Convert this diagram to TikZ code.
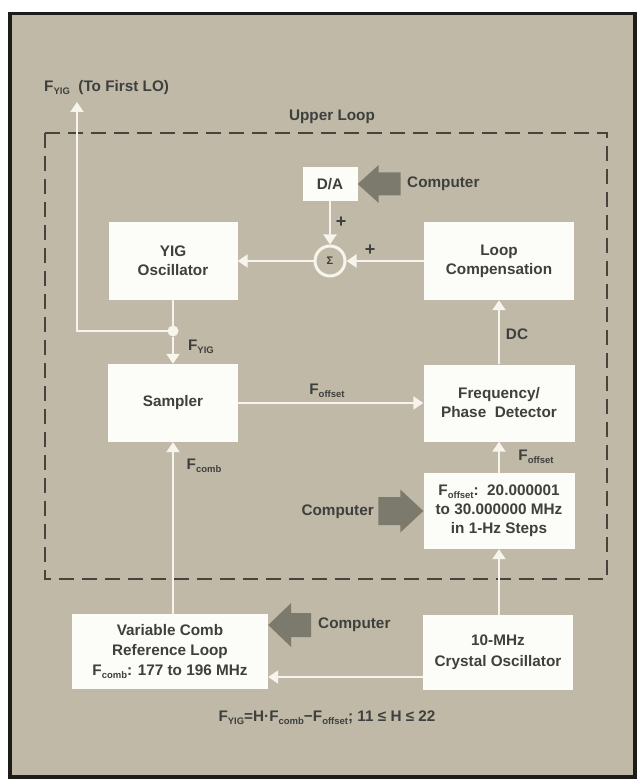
\documentclass[tikz,border=0pt]{standalone}
\usepackage{fontspec}
\setmainfont{Liberation Sans}
\usetikzlibrary{arrows.meta,calc}
\definecolor{tanbg}{RGB}{192,185,167}
\definecolor{boxw}{RGB}{252,252,249}
\definecolor{linew}{RGB}{246,244,236}
\definecolor{fatc}{RGB}{124,121,109}
\definecolor{dashc}{RGB}{72,68,60}
\definecolor{txt}{RGB}{62,64,62}
\definecolor{framec}{RGB}{28,28,26}
\newcommand{\lsub}[1]{\raisebox{-0.35ex}{\fontsize{9.5}{9.5}\selectfont #1}}
\begin{document}
\begin{tikzpicture}[x=1pt,y=-1pt,
  font=\fontsize{15.3}{19}\selectfont\bfseries, text=txt,
  blk/.style={fill=boxw, draw=none, inner sep=0pt, align=center},
  lbl/.style={inner sep=0pt, align=center},
  sig/.style={draw=linew, line width=2pt, -{Triangle[width=13pt,length=10pt,fill=linew]}},
  wire/.style={draw=linew, line width=2pt}]
\useasboundingbox (0,0) rectangle (639,783);
\fill[white] (0,0) rectangle (639,783);
\draw[framec, line width=3.5pt, fill=tanbg] (10,13.5) rectangle (635,777);

% dashed upper loop
\draw[dashc, line width=1.8pt, dash pattern=on 15pt off 8pt] (45,133) rectangle (607,579);
\node[lbl] (ul) at (332,117) {Upper Loop};
\node[lbl, anchor=west] (fout) at (44,88) {F\lsub{YIG}\ \ (To First LO)};

% blocks
\node[blk, minimum width=55pt, minimum height=34pt] (da) at (330,184) {D/A};
\node[circle, draw=linew, line width=3pt, fill=tanbg, minimum size=30pt, inner sep=0pt] (sum) at (330,261) {\fontsize{11}{11}\selectfont Σ};
\node[blk, minimum width=129pt, minimum height=78pt] (yig) at (173,261) {YIG\\Oscillator};
\node[blk, minimum width=150pt, minimum height=78pt] (lc) at (499,261) {Loop\\Compensation};
\node[blk, minimum width=130pt, minimum height=78pt] (samp) at (173,403) {Sampler};
\node[blk, minimum width=151pt, minimum height=77pt] (fpd) at (499,403) {Frequency/\\Phase\ \ Detector};
\node[blk, minimum width=151pt, minimum height=76pt] (off) at (499,511) {F\lsub{offset}:\ \ 20.000001\\to 30.000000 MHz\\in 1-Hz Steps};
\node[blk, minimum width=196pt, minimum height=75pt, font=\fontsize{15.3}{20}\selectfont\bfseries] (comb) at (170,651.5) {Variable Comb\\Reference Loop\\F\lsub{comb}: 177 to 196 MHz};
\node[blk, minimum width=150pt, minimum height=75pt, font=\fontsize{15.3}{21}\selectfont\bfseries] (xtal) at (498,652.5) {10-MHz\\Crystal Oscillator};

% connectors
\draw[sig] (da.south) -- (sum.north);
\node[lbl, font=\fontsize{18}{18}\selectfont\bfseries] (p1) at (341,222) {+};
\node[lbl, font=\fontsize{18}{18}\selectfont\bfseries] (p2) at (370,250) {+};
\draw[sig] (lc.west) -- (sum.east);
\draw[sig] (sum.west) -- (yig.east);
\node[circle, fill=linew, minimum size=11pt, inner sep=0pt] (j) at (173,331) {};
\draw[wire] (yig.south) -- (j.center);
\draw[sig] (j.south) -- (samp.north);
\coordinate (bend) at (77,331);
\coordinate (out) at (77,102);
\draw[sig] (j.center) -- (bend) -- (out);
\node[lbl] (fy) at (201,347) {F\lsub{YIG}};
\draw[sig] (samp.east) -- (fpd.west);
\node[lbl] (fo1) at (327,391) {F\lsub{offset}};
\draw[sig] (fpd.north) -- (lc.south);
\node[lbl] (dc) at (517,334) {DC};
\draw[sig] (off.north) -- (fpd.south);
\node[lbl] (fo2) at (536,457) {F\lsub{offset}};
\draw[sig] (xtal.north -| off.south) -- (off.south);
\draw[sig] (samp.south |- comb.north) -- (samp.south);
\node[lbl] (fc) at (204,466) {F\lsub{comb}};
\draw[sig] ([yshift=-24.5pt]xtal.west) coordinate (xw) -- (comb.east |- xw);

% computer arrows
\fill[fatc] (da.east) -- ++(21,-19) -- ++(0,7.5) -- ++(22,0) -- ++(0,23) -- ++(-22,0) -- ++(0,7.5) -- cycle;
\node[lbl, anchor=west] (c1) at (407,184) {Computer};
\fill[fatc] (off.west) -- ++(-23,-21.5) -- ++(0,7.5) -- ++(-22,0) -- ++(0,28) -- ++(22,0) -- ++(0,7.5) -- cycle;
\node[lbl, anchor=east] (c2) at (374,512) {Computer};
\fill[fatc] ([yshift=26.5pt]comb.east) -- ++(23,-22) -- ++(0,10) -- ++(20,0) -- ++(0,24) -- ++(-20,0) -- ++(0,10) -- cycle;
\node[lbl, anchor=west] (c3) at (318,625) {Computer};

% formula
\node[lbl] (eq) at (327,718) {F\lsub{YIG}=H·F\lsub{comb}−F\lsub{offset}; 11 ≤ H ≤ 22};
\end{tikzpicture}
\end{document}
